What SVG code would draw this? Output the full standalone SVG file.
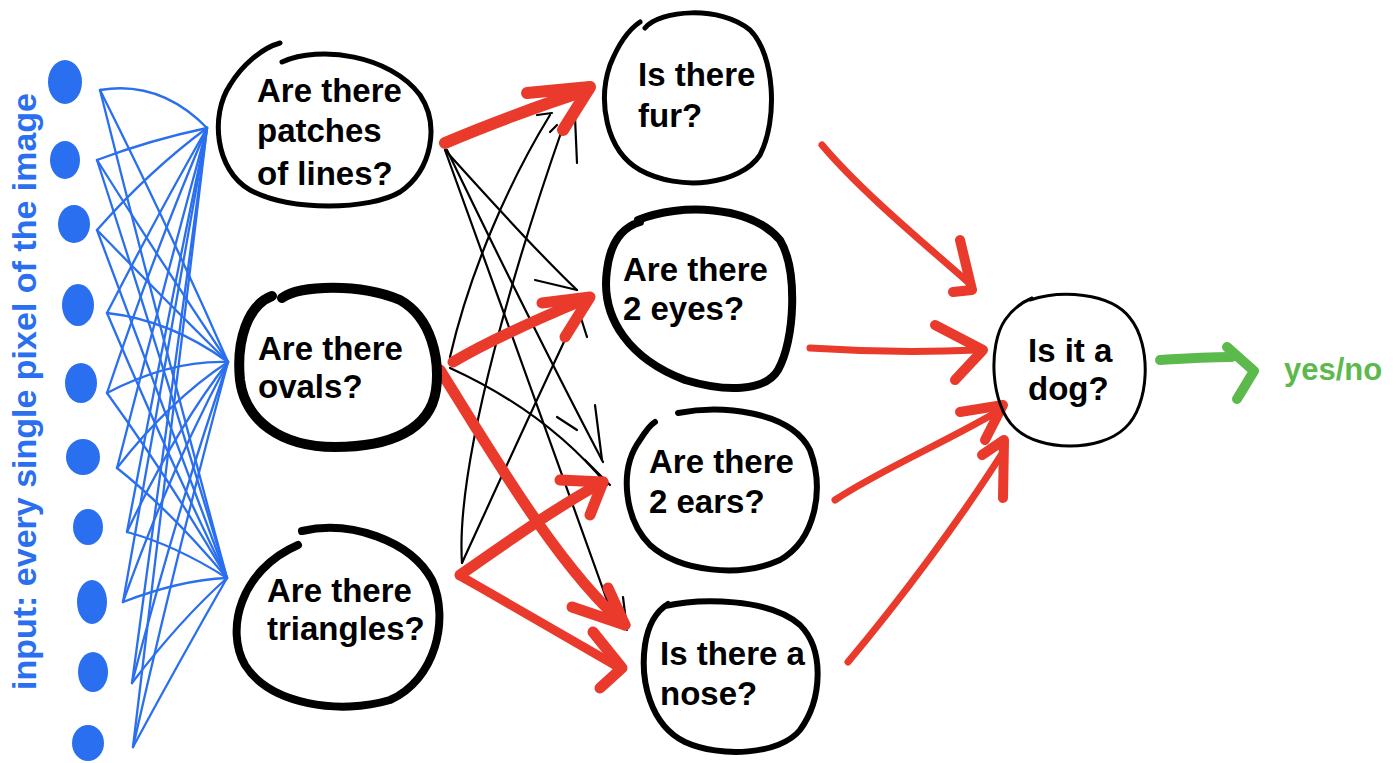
<svg xmlns="http://www.w3.org/2000/svg" width="1397" height="763" viewBox="0 0 1397 763">
  <style>
    .bg { fill: #ffffff; }
    .txt { font-family: "Liberation Sans", Arial, sans-serif; font-weight: bold; font-size: 33px; fill: #000000; }
    .ring { fill: none; stroke: #000000; stroke-linecap: round; stroke-linejoin: round; }
    .dot { fill: #2a6ff0; }
    .wire { fill: none; stroke: #2a6ff0; stroke-width: 2.3; stroke-linecap: round; }
    .red { fill: none; stroke: #e93a2c; stroke-linecap: round; stroke-linejoin: round; }
    .thin { fill: none; stroke: #000000; stroke-width: 2.2; stroke-linecap: round; stroke-linejoin: round; }
    .green { fill: none; stroke: #5cb94b; stroke-width: 10; stroke-linecap: round; stroke-linejoin: round; }
  </style>

  <rect class="bg" x="0" y="0" width="1397" height="763"/>

  <!-- input label -->
  <text transform="translate(36,690) rotate(-90)" font-family="Liberation Sans, Arial, sans-serif" font-weight="bold" font-size="34" fill="#2a6ff0">input: every single pixel of the image</text>

  <!-- input pixels -->
  <g id="inputs">
    <ellipse class="dot" cx="65" cy="82" rx="17" ry="22"/>
    <ellipse class="dot" cx="65" cy="160" rx="15" ry="19"/>
    <ellipse class="dot" cx="74" cy="224" rx="16" ry="19"/>
    <ellipse class="dot" cx="78" cy="305" rx="16" ry="21"/>
    <ellipse class="dot" cx="81" cy="383" rx="16" ry="20"/>
    <ellipse class="dot" cx="83" cy="457" rx="17" ry="18"/>
    <ellipse class="dot" cx="88" cy="527" rx="15" ry="18"/>
    <ellipse class="dot" cx="92" cy="602" rx="15" ry="22"/>
    <ellipse class="dot" cx="93" cy="672" rx="15" ry="20"/>
    <ellipse class="dot" cx="88" cy="743" rx="16" ry="18"/>
  </g>

  <!-- connectors -->
  <g id="connectors">
    <!-- pixels to first layer -->
    <g id="input-wires">
      <path class="wire" d="M100,90 Q160,80 207,128"/>
      <path class="wire" d="M100,90 Q170,230 228,362"/>
      <path class="wire" d="M100,90 Q160,330 227,578"/>
      <path class="wire" d="M97,160 Q150,140 207,128"/>
      <path class="wire" d="M97,160 Q160,260 228,362"/>
      <path class="wire" d="M97,160 Q165,370 227,578"/>
      <path class="wire" d="M97,230 Q150,170 207,128"/>
      <path class="wire" d="M97,230 Q165,300 228,362"/>
      <path class="wire" d="M97,230 Q160,400 227,578"/>
      <path class="wire" d="M107,313 Q160,210 207,128"/>
      <path class="wire" d="M107,313 Q170,320 228,362"/>
      <path class="wire" d="M107,313 Q165,450 227,578"/>
      <path class="wire" d="M107,393 Q155,250 207,128"/>
      <path class="wire" d="M107,393 Q170,360 228,362"/>
      <path class="wire" d="M107,393 Q170,480 227,578"/>
      <path class="wire" d="M117,468 Q160,300 207,128"/>
      <path class="wire" d="M117,468 Q170,400 228,362"/>
      <path class="wire" d="M117,468 Q170,510 227,578"/>
      <path class="wire" d="M127,532 Q165,330 207,128"/>
      <path class="wire" d="M127,532 Q175,430 228,362"/>
      <path class="wire" d="M127,532 Q175,545 227,578"/>
      <path class="wire" d="M123,602 Q165,360 207,128"/>
      <path class="wire" d="M123,602 Q170,470 228,362"/>
      <path class="wire" d="M123,602 Q180,580 227,578"/>
      <path class="wire" d="M132,683 Q170,400 207,128"/>
      <path class="wire" d="M132,683 Q180,500 228,362"/>
      <path class="wire" d="M132,683 Q180,620 227,578"/>
      <path class="wire" d="M133,747 Q170,430 207,128"/>
      <path class="wire" d="M133,747 Q180,540 228,362"/>
      <path class="wire" d="M133,747 Q180,660 227,578"/>
    </g>

    <!-- weak links between first and second layer -->
    <g id="weak-links">
      <path class="thin" d="M445,150 C490,200 540,255 577,290"/>
      <path class="thin" d="M535,280 L577,290"/>
      <path class="thin" d="M447,150 C500,260 560,380 603,462"/>
      <path class="thin" d="M557,417 L577,430 M595,405 L602,460"/>
      <path class="thin" d="M445,150 C500,300 570,500 613,617"/>
      <path class="thin" d="M623,597 L627,630"/>
      <path class="thin" d="M450,357 C470,270 510,180 550,115"/>
      <path class="thin" d="M537,115 L552,113"/>
      <path class="thin" d="M450,368 C520,400 570,440 607,485"/>
      <path class="thin" d="M585,460 L610,485"/>
      <path class="thin" d="M462,563 C455,460 520,250 563,127"/>
      <path class="thin" d="M550,132 L557,125 M575,117 L577,163"/>
      <path class="thin" d="M462,563 C500,480 550,370 584,300"/>
      <path class="thin" d="M580,315 L587,337"/>
    </g>

    <!-- strong links between first and second layer -->
    <g id="strong-links">
      <path class="red" stroke-width="12" d="M445,143 C480,128 540,105 588,90"/>
      <path class="red" stroke-width="12" d="M527,93 L590,87 L563,130"/>
      <path class="red" stroke-width="11" d="M453,362 C490,340 540,318 588,298"/>
      <path class="red" stroke-width="11" d="M542,303 L590,297 L565,337"/>
      <path class="red" stroke-width="11" d="M440,370 C490,450 560,570 625,625"/>
      <path class="red" stroke-width="11" d="M572,607 L625,625 L608,588"/>
      <path class="red" stroke-width="11" d="M460,575 C510,540 560,505 603,482"/>
      <path class="red" stroke-width="11" d="M560,480 L603,482 L590,515"/>
      <path class="red" stroke-width="9" d="M462,577 C520,610 580,645 620,668"/>
      <path class="red" stroke-width="11" d="M593,632 L622,668 L600,688"/>
    </g>

    <!-- second layer to output -->
    <g id="output-links">
      <path class="red" stroke-width="7" d="M822,145 C860,190 920,240 968,282"/>
      <path class="red" stroke-width="10" d="M960,240 L972,290 L953,292"/>
      <path class="red" stroke-width="7" d="M810,348 C870,352 930,352 978,350"/>
      <path class="red" stroke-width="10" d="M935,325 L983,350 L955,380"/>
      <path class="red" stroke-width="7" d="M835,500 C880,470 950,440 1000,410"/>
      <path class="red" stroke-width="10" d="M960,412 L1003,405 L985,440"/>
      <path class="red" stroke-width="7" d="M848,662 C900,600 960,520 1003,452"/>
      <path class="red" stroke-width="10" d="M982,455 L1004,440 L1003,498"/>
    </g>

    <!-- output to answer -->
    <g id="answer-link">
      <path class="green" d="M1160,360 C1190,358 1215,357 1232,357"/>
      <path class="green" d="M1227,347 L1254,371 L1237,399"/>
    </g>
  </g>

  <!-- first layer -->
  <g id="node-lines">
    <path class="ring" stroke-width="5" d="M282,62 C320,45 390,55 420,95 C440,125 432,170 400,192 C370,210 290,212 250,190 C215,170 210,115 230,85 C242,65 262,48 280,43"/>
    <text class="txt" x="257" y="102">Are there</text>
    <text class="txt" x="257" y="142">patches</text>
    <text class="txt" x="257" y="185">of lines?</text>
  </g>
  <g id="node-ovals">
    <path class="ring" stroke-width="10" d="M282,298 C300,285 360,283 400,300 C432,318 440,360 436,390 C430,430 390,447 335,447 C280,447 245,420 240,380 C236,340 248,305 272,296"/>
    <text class="txt" x="258" y="360">Are there</text>
    <text class="txt" x="258" y="398">ovals?</text>
  </g>
  <g id="node-triangles">
    <path class="ring" stroke-width="8" d="M302,531 C350,520 410,540 432,580 C450,620 435,680 390,700 C340,715 270,705 245,665 C225,630 240,570 298,545"/>
    <text class="txt" x="267" y="602">Are there</text>
    <text class="txt" x="267" y="640">triangles?</text>
  </g>

  <!-- second layer -->
  <g id="node-fur">
    <path class="ring" stroke-width="5" d="M645,28 C660,10 720,5 750,30 C775,55 778,120 760,155 C740,185 680,192 640,170 C605,150 598,100 610,65 C618,45 628,30 640,22"/>
    <text class="txt" x="638" y="86">Is there</text>
    <text class="txt" x="638" y="127">fur?</text>
  </g>
  <g id="node-eyes">
    <path class="ring" stroke-width="8" d="M638,220 C680,203 750,205 780,240 C798,270 795,340 778,370 C765,392 725,392 685,380 C632,360 600,320 607,270 C610,245 620,228 640,222"/>
    <text class="txt" x="623" y="281">Are there</text>
    <text class="txt" x="623" y="320">2 eyes?</text>
  </g>
  <g id="node-ears">
    <path class="ring" stroke-width="6" d="M678,413 C720,405 790,410 810,450 C825,490 815,540 780,560 C740,578 680,572 650,545 C625,520 618,470 640,440 C645,432 650,425 655,422"/>
    <text class="txt" x="649" y="473">Are there</text>
    <text class="txt" x="649" y="513">2 ears?</text>
  </g>
  <g id="node-nose">
    <path class="ring" stroke-width="6" d="M665,606 C700,598 770,598 800,625 C825,650 822,700 800,730 C780,755 720,758 685,742 C650,725 640,680 645,645 C648,625 655,612 668,604"/>
    <text class="txt" x="660" y="665">Is there a</text>
    <text class="txt" x="660" y="705">nose?</text>
  </g>

  <!-- output -->
  <g id="node-dog">
    <path class="ring" stroke-width="3" d="M1030,300 C1060,290 1110,292 1130,318 C1152,345 1150,405 1125,428 C1100,452 1040,452 1015,428 C990,405 988,345 1005,320 C1012,310 1020,303 1032,298"/>
    <text class="txt" x="1028" y="362">Is it a</text>
    <text class="txt" x="1028" y="400">dog?</text>
  </g>

  <g id="answer">
    <text x="1284" y="380" font-family="Liberation Sans, Arial, sans-serif" font-weight="bold" font-size="31" fill="#5cb94b">yes/no</text>
  </g>
</svg>
